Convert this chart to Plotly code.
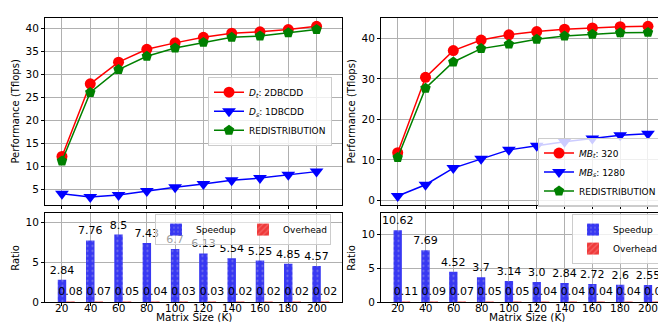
import plotly.graph_objects as go

sizes = [20, 40, 60, 80, 100, 120, 140, 160, 180, 200]

# Left panel
left_dt = [12.2, 28.0, 32.7, 35.5, 36.9, 38.1, 39.0, 39.3, 39.8, 40.5]
left_ds = [4.1, 3.4, 3.8, 4.7, 5.5, 6.2, 7.0, 7.5, 8.2, 8.9]
left_redis = [11.2, 26.1, 31.1, 34.0, 35.8, 37.0, 38.1, 38.4, 39.1, 39.8]
left_speedup = [2.84, 7.76, 8.5, 7.43, 6.7, 6.13, 5.54, 5.25, 4.85, 4.57]
left_overhead = [0.08, 0.07, 0.05, 0.04, 0.03, 0.03, 0.02, 0.02, 0.02, 0.02]

# Right panel
right_mbt = [11.8, 30.4, 37.0, 39.6, 40.9, 41.7, 42.3, 42.6, 42.9, 43.0]
right_mbs = [1.1, 3.9, 8.0, 10.3, 12.5, 13.5, 14.5, 15.3, 16.1, 16.5]
right_redis = [10.6, 27.7, 34.2, 37.5, 38.6, 39.8, 40.6, 41.05, 41.4, 41.5]
right_speedup = [10.62, 7.69, 4.52, 3.7, 3.14, 3.0, 2.84, 2.72, 2.6, 2.55]
right_overhead = [0.11, 0.09, 0.07, 0.05, 0.05, 0.04, 0.04, 0.04, 0.04, 0.03]

names_left = ["<i>D</i><sub><i>t</i></sub>: 2DBCDD", "<i>D</i><sub><i>s</i></sub>: 1DBCDD", "REDISTRIBUTION"]
names_right = ["<i>MB</i><sub><i>t</i></sub>: 320", "<i>MB</i><sub><i>s</i></sub>: 1280", "REDISTRIBUTION"]

FONT = "DejaVu Sans"
RED = "#ff0000"
BLUE = "#0000ff"
GREEN = "#008000"
BARBLUE = "#3838f2"
BARRED = "#ee3a3a"

fig = go.Figure()

def add_lines(xa, ya, series, names, legend):
    styles = [(RED, "circle", 11), (BLUE, "triangle-down", 12), (GREEN, "pentagon", 11)]
    for vals, name, (c, sym, ms) in zip(series, names, styles):
        fig.add_trace(go.Scatter(
            x=sizes, y=vals, name=name, mode="lines+markers",
            line=dict(color=c, width=1.5),
            marker=dict(color=c, symbol=sym, size=ms),
            xaxis=xa, yaxis=ya, legend=legend))

def add_bars(xa, ya, speed, over, legend):
    fig.add_trace(go.Bar(
        x=sizes, y=speed, name="Speedup", width=6, offset=-3,
        marker=dict(color=BARBLUE, line=dict(width=0),
                    pattern=dict(shape=".", fgcolor="rgba(200,200,220,0.9)", size=5, solidity=0.15)),
        text=[str(v) for v in speed], textposition="outside", cliponaxis=False,
        constraintext="none", textangle=0,
        textfont=dict(family=FONT, size=11, color="black"),
        xaxis=xa, yaxis=ya, legend=legend))
    fig.add_trace(go.Bar(
        x=sizes, y=over, name="Overhead", width=6, offset=3,
        marker=dict(color=BARRED, line=dict(width=0),
                    pattern=dict(shape="/", fgcolor="rgba(255,150,150,0.9)", size=5, solidity=0.3)),
        text=[str(v) for v in over], textposition="outside", cliponaxis=False,
        constraintext="none", textangle=0,
        textfont=dict(family=FONT, size=11, color="black"),
        xaxis=xa, yaxis=ya, legend=legend))

add_lines("x", "y", [left_dt, left_ds, left_redis], names_left, "legend")
add_lines("x2", "y2", [right_mbt, right_mbs, right_redis], names_right, "legend2")
add_bars("x3", "y3", left_speedup, left_overhead, "legend3")
add_bars("x4", "y4", right_speedup, right_overhead, "legend4")

W, H = 666, 322
lx = [37 / W, 334 / W]
rx = [373 / W, 665 / W]
ty = [1 - 200.7 / H, 1 - 10 / H]
by = [1 - 300 / H, 1 - 209.3 / H]

axis_common = dict(showline=True, mirror=True, linecolor="black", linewidth=1,
                   showgrid=True, gridcolor="#b0b0b0", gridwidth=1,
                   ticks="outside", ticklen=3, tickcolor="black", zeroline=False,
                   tickfont=dict(family=FONT, size=10.5, color="black"))
xr = [8, 218]

annotations = []
for xa, dom in (("x3", lx), ("x4", rx)):
    annotations.append(dict(text="Matrix Size (K)", x=(dom[0] + dom[1]) / 2, y=0, xref="paper", yref="paper",
                            xanchor="center", yanchor="bottom", showarrow=False, borderpad=0,
                            font=dict(family=FONT, size=10.5), yshift=0))
    for s in sizes:
        annotations.append(dict(text=str(s), x=s, xref=xa, y=1 - 299 / H, yref="paper",
                                xanchor="center", yanchor="top", showarrow=False, borderpad=0,
                                font=dict(family=FONT, size=10.5, color="black")))

layout = dict(
    width=W, height=H, margin=dict(l=0, r=0, t=0, b=0),
    paper_bgcolor="white", plot_bgcolor="white",
    font=dict(family=FONT, size=10, color="black"),
    barmode="overlay", showlegend=True,
    xaxis=dict(domain=lx, anchor="y", range=xr, tickvals=sizes, showticklabels=False, **axis_common),
    xaxis2=dict(domain=rx, anchor="y2", range=xr, tickvals=sizes, showticklabels=False, **axis_common),
    xaxis3=dict(domain=lx, anchor="y3", range=xr, tickvals=sizes, showticklabels=False, **axis_common),
    xaxis4=dict(domain=rx, anchor="y4", range=xr, tickvals=sizes, showticklabels=False, **axis_common),
    yaxis=dict(domain=ty, anchor="x", range=[1.65, 42.35], tickvals=[5, 10, 15, 20, 25, 30, 35, 40],
               title=dict(text="Performance (Tflops)", font=dict(family=FONT, size=10), standoff=4), **axis_common),
    yaxis2=dict(domain=ty, anchor="x2", range=[-1.1, 45.1], tickvals=[0, 10, 20, 30, 40],
                title=dict(text="Performance (Tflops)", font=dict(family=FONT, size=10), standoff=4), **axis_common),
    yaxis3=dict(domain=by, anchor="x3", range=[0, 11.15], tickvals=[0, 5, 10],
                title=dict(text="Ratio", font=dict(family=FONT, size=10), standoff=4), **axis_common),
    yaxis4=dict(domain=by, anchor="x4", range=[0, 13.1], tickvals=[0, 5, 10],
                title=dict(text="Ratio", font=dict(family=FONT, size=10), standoff=4), **axis_common),
    annotations=annotations,
)

leg_common = dict(bordercolor="#cccccc", borderwidth=1,
                  font=dict(family=FONT, size=9, color="black"), tracegroupgap=0,
                  itemsizing="trace", itemwidth=30, yanchor="top", xanchor="left")
layout["legend"] = dict(x=200 / W, y=1 - 70 / H, bgcolor="rgba(255,255,255,0.8)", **leg_common)
layout["legend2"] = dict(x=530 / W, y=1 - 132 / H, bgcolor="rgba(255,255,255,0.8)", **leg_common)
layout["legend3"] = dict(x=147 / W, y=1 - 210 / H, orientation="h", entrywidth=42,
                         bgcolor="rgba(255,255,255,0.6)", **leg_common)
layout["legend4"] = dict(x=564 / W, y=1 - 210 / H, bgcolor="rgba(255,255,255,0.8)", **leg_common)

fig.update_layout(**layout)
fig.write_html("out.html")
